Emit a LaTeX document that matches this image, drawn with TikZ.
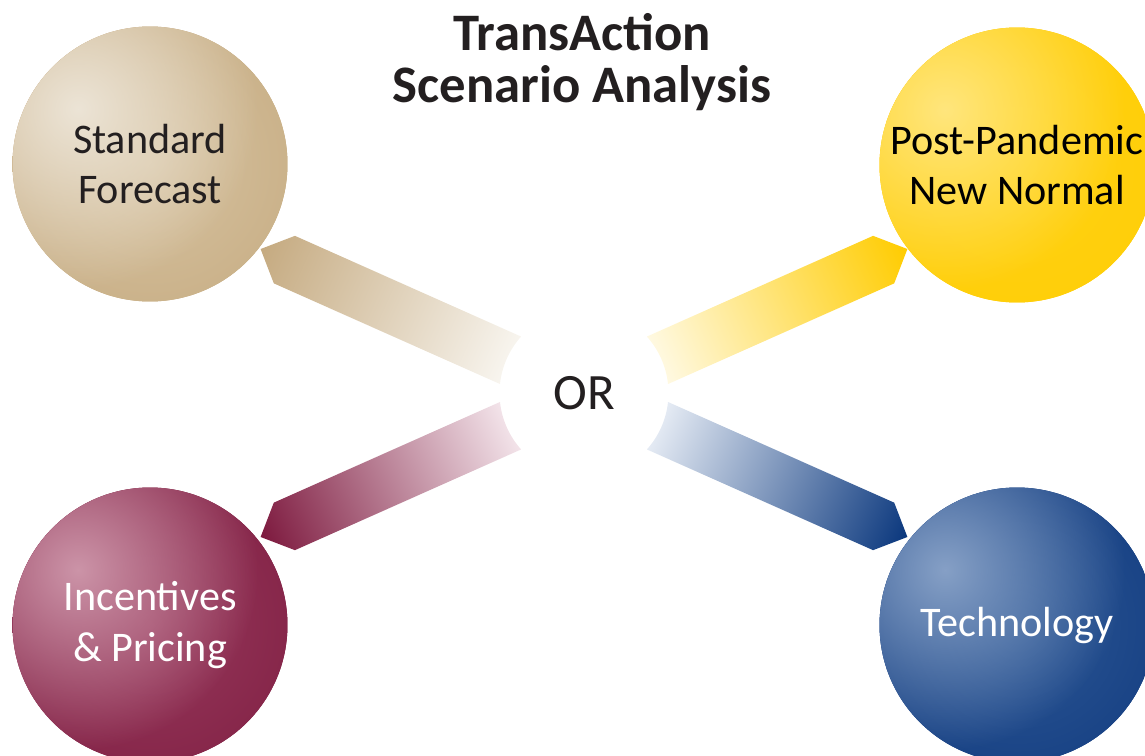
\documentclass[tikz,border=0pt]{standalone}
\usepackage{fontspec}
\setmainfont{Carlito}
\usepackage{tikz}
\usetikzlibrary{fadings}

\definecolor{inkgray}{RGB}{35,31,32}
\definecolor{tanbase}{RGB}{197,170,128}
\definecolor{tanmid}{RGB}{214,194,160}
\definecolor{tanrim}{RGB}{192,163,118}
\definecolor{tanlight}{RGB}{236,228,214}
\definecolor{tanpale}{RGB}{248,245,239}
\definecolor{goldbase}{RGB}{255,204,0}
\definecolor{goldmid}{RGB}{255,210,20}
\definecolor{goldrim}{RGB}{255,203,0}
\definecolor{goldlight}{RGB}{255,230,125}
\definecolor{goldpale}{RGB}{255,249,226}
\definecolor{winebase}{RGB}{125,25,62}
\definecolor{winemid}{RGB}{150,56,91}
\definecolor{winerim}{RGB}{120,22,58}
\definecolor{winelight}{RGB}{204,148,168}
\definecolor{winepale}{RGB}{243,228,234}
\definecolor{navybase}{RGB}{10,55,125}
\definecolor{navymid}{RGB}{44,86,148}
\definecolor{navyrim}{RGB}{8,50,120}
\definecolor{navylight}{RGB}{134,160,198}
\definecolor{navypale}{RGB}{229,235,244}

\tikzfading[name=glow, inner color=transparent!0, outer color=transparent!100]

\tikzset{
  scenario/.style={circle, minimum size=5.5cm, inner sep=0pt, align=center,
    font=\fontsize{24}{29}\selectfont},
  % mid colour, rim colour, light spot
  ball/.style n args={3}{fill=#2, path picture={
    \shade[inner color=#1, outer color=#2] (path picture bounding box.center) circle (275);
    \fill[#3, path fading=glow] ([shift={(-72,55)}]path picture bounding box.center) circle (180);}},
  headline/.style={align=center, text=inkgray, font=\bfseries\fontsize{30}{30}\selectfont}
}

\begin{document}
\begin{tikzpicture}[x=0.02cm, y=0.02cm]
    \useasboundingbox (0,0) rectangle (1145,755);
    \clip (0,0) rectangle (1145,755);

    % ---- centre word and title ----------------------
    \node[text=inkgray, font=\fontsize{29}{35}\selectfont] (or) at (584,362) {OR};
    \node[headline] (title) at (582,693) {TransAction\\Scenario Analysis};

    % ---- faded arrows, cut round the centre ---------
    \foreach \ang/\hue in {156/tan, 24/gold, 204/wine, -24/navy}
      \shade[transform canvas={shift={(or.center)}, rotate=\ang},
             left color=\hue pale, right color=\hue base]
        (-17.9:84.5) -- (328,-26) -- (354,0) -- (328,26) -- (17.9:84.5)
        arc[start angle=17.9, end angle=-17.9, radius=84.5] -- cycle;

    % ---- the four scenarios -------------------------
    \node[scenario, ball={tanmid}{tanrim}{tanlight}, text=inkgray]     (standard)     at (150,591)  {Standard\\Forecast};
    \node[scenario, ball={goldmid}{goldrim}{goldlight}, text=black]    (postpandemic) at (1017,590) {Post-Pandemic\\New Normal};
    \node[scenario, ball={winemid}{winerim}{winelight}, text=white]    (incentives)   at (150,130)  {Incentives\\\& Pricing};
    \node[scenario, ball={navymid}{navyrim}{navylight}, text=white]    (technology)   at (1017,130) {Technology};
\end{tikzpicture}
\end{document}
